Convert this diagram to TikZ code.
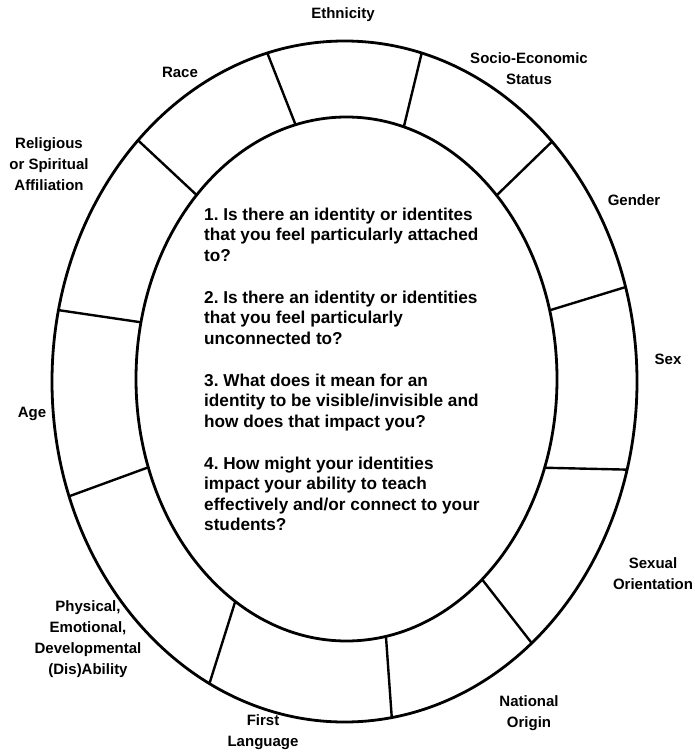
\documentclass[tikz,border=0pt]{standalone}
\usepackage{fontspec}
\setmainfont{Liberation Sans}
\frenchspacing
\begin{document}
\begin{tikzpicture}[x=1pt,y=-1pt,
  ring/.style={line width=2.8pt},
  divider/.style={line width=2.4pt},
  lbl/.style={font=\fontsize{15}{21}\selectfont\bfseries\frenchspacing, align=center, inner sep=0pt},
  question/.style={font=\fontsize{17.2}{20.5}\selectfont\bfseries\frenchspacing, align=left, inner sep=0pt, anchor=north west}]
\useasboundingbox (0,0) rectangle (694,752);
\coordinate (co) at (344.5,381.5);
\coordinate (ci) at (346.5,379);
\draw[ring] (co) ellipse [x radius=292.5pt, y radius=340.5pt];
\draw[ring] (ci) ellipse [x radius=210.5pt, y radius=262pt];
% divider end points
\path (co) ++(254.7:292.5 and 340.5) coordinate (o1);
\path (ci) ++(256.0:210.5 and 262) coordinate (i1);
\path (co) ++(285.3:292.5 and 340.5) coordinate (o2);
\path (ci) ++(285.8:210.5 and 262) coordinate (i2);
\path (co) ++(225.1:292.5 and 340.5) coordinate (o3);
\path (ci) ++(224.6:210.5 and 262) coordinate (i3);
\path (co) ++(315.2:292.5 and 340.5) coordinate (o4);
\path (ci) ++(315.5:210.5 and 262) coordinate (i4);
\path (co) ++(192.1:292.5 and 340.5) coordinate (o5);
\path (ci) ++(192.5:210.5 and 262) coordinate (i5);
\path (co) ++(160.3:292.5 and 340.5) coordinate (o6);
\path (ci) ++(160.3:210.5 and 262) coordinate (i6);
\path (co) ++(343.9:292.5 and 340.5) coordinate (o7);
\path (ci) ++(344.8:210.5 and 262) coordinate (i7);
\path (co) ++(15.0:292.5 and 340.5) coordinate (o8);
\path (ci) ++(19.8:210.5 and 262) coordinate (i8);
\path (co) ++(50.2:292.5 and 340.5) coordinate (o9);
\path (ci) ++(49.9:210.5 and 262) coordinate (i9);
\path (co) ++(80.7:292.5 and 340.5) coordinate (o10);
\path (ci) ++(79.2:210.5 and 262) coordinate (i10);
\path (co) ++(117.5:292.5 and 340.5) coordinate (o11);
\path (ci) ++(121.9:210.5 and 262) coordinate (i11);
\foreach \k in {1,...,11} {\draw[divider] (o\k) -- (i\k);}
% labels
\node[lbl] (eth) at (343,15) {Ethnicity};
\node[lbl] (race) at (180,72) {Race};
\node[lbl] (ses) at (529,68.5) {Socio-Economic\\Status};
\node[lbl] (rel) at (49,164.5) {Religious\\or Spiritual\\Affiliation};
\node[lbl] (gen) at (634,200) {Gender};
\node[lbl] (sex) at (668,359) {Sex};
\node[lbl] (age) at (32,414) {Age};
\node[lbl] (sor) at (653,573.5) {Sexual\\Orientation};
\node[lbl] (nat) at (529,713.5) {National\\Origin};
\node[lbl] (fl) at (263,732.5) {First\\Language};
\node[lbl] (phys) at (88,639.5) {Physical,\\Emotional,\\Developmental\\(Dis)Ability};
% questions
\node[question] (q) at (204,207.5) {1. Is there an identity or identites\\that you feel particularly attached\\to?\\[21.5pt]2. Is there an identity or identities\\that you feel particularly\\unconnected to?\\[21.5pt]3. What does it mean for an\\identity to be visible/invisible and\\how does that impact you?\\[21.5pt]4. How might your identities\\impact your ability to teach\\effectively and/or connect to your\\students?};
\end{tikzpicture}
\end{document}
